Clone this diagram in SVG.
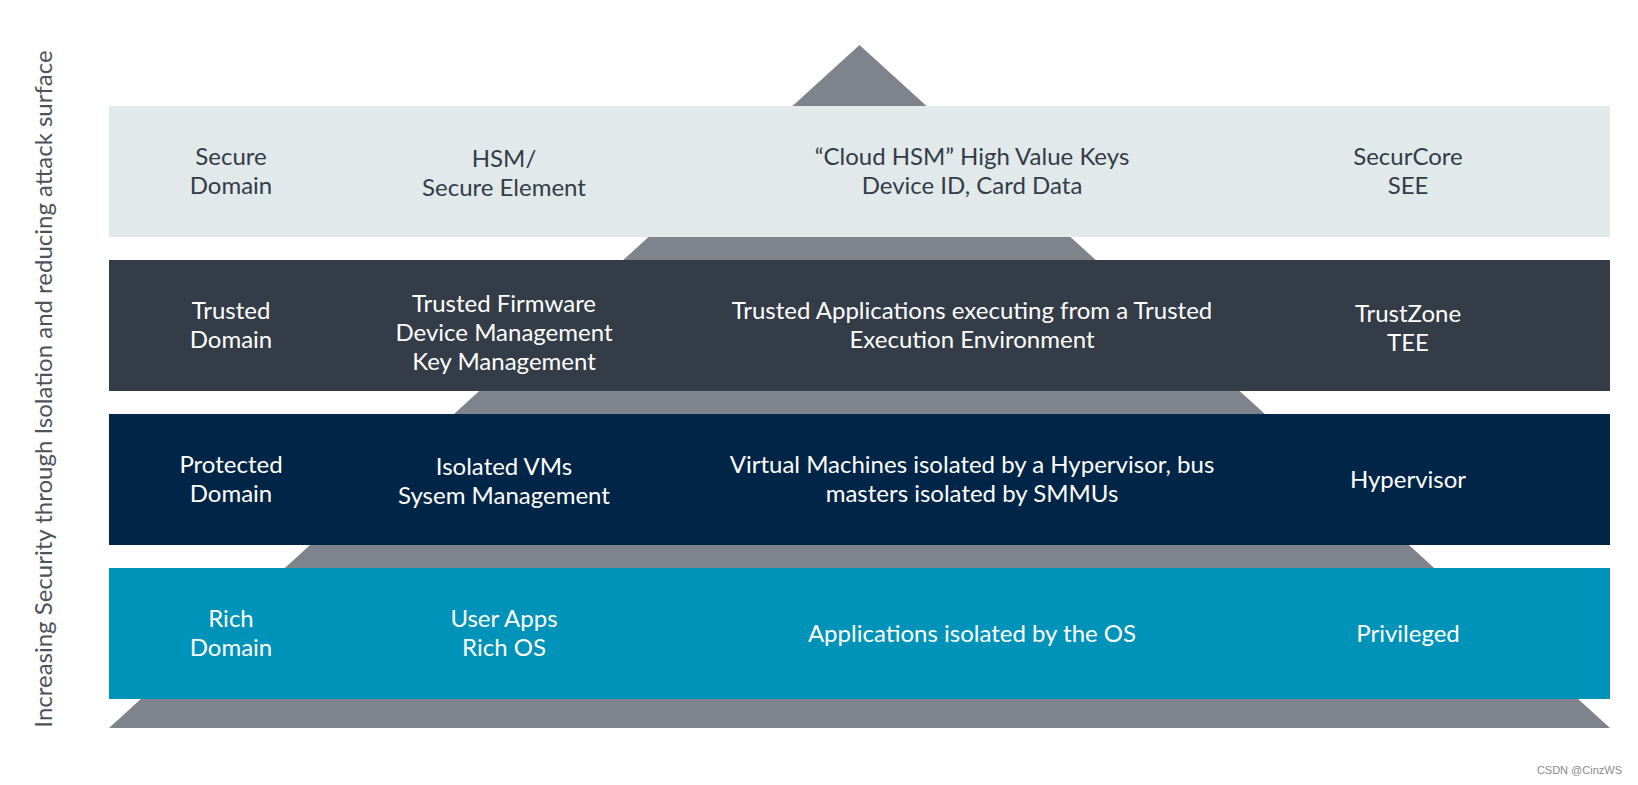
<svg xmlns="http://www.w3.org/2000/svg" width="1638" height="785" viewBox="0 0 1638 785">
<style>
  text { font-family: Lato, "Noto Sans", "Liberation Sans", sans-serif; font-size: 24px; text-anchor: middle; }
  .dark { fill: #333c47; }
  .light { fill: #ffffff; }
  .axis { font-size: 24px; fill: #4d5259; }
  .wm { font-family: "Liberation Sans", sans-serif; font-size: 11px; fill: #8a8a8a; text-anchor: end; }
</style>
<rect width="1638" height="785" fill="#ffffff"/>
<g id="pyramid">
  <polygon points="859.5,45 1610,728 109,728" fill="#7f838c"/>
</g>
<g id="secure-domain">
  <rect x="109" y="106" width="1501" height="131" fill="#e1e9eb"/>
  <text class="dark" x="231" y="165">Secure</text>
  <text class="dark" x="231" y="194">Domain</text>
  <text class="dark" x="504" y="167">HSM/</text>
  <text class="dark" x="504" y="196">Secure Element</text>
  <text class="dark" x="972" y="165">“Cloud HSM” High Value Keys</text>
  <text class="dark" x="972" y="194">Device ID, Card Data</text>
  <text class="dark" x="1408" y="165">SecurCore</text>
  <text class="dark" x="1408" y="194">SEE</text>
</g>
<g id="trusted-domain">
  <rect x="109" y="260" width="1501" height="131" fill="#333c47"/>
  <text class="light" x="231" y="319">Trusted</text>
  <text class="light" x="231" y="348">Domain</text>
  <text class="light" x="504" y="312">Trusted Firmware</text>
  <text class="light" x="504" y="341">Device Management</text>
  <text class="light" x="504" y="370">Key Management</text>
  <text class="light" x="972" y="319">Trusted Applications executing from a Trusted</text>
  <text class="light" x="972" y="348">Execution Environment</text>
  <text class="light" x="1408" y="322">TrustZone</text>
  <text class="light" x="1408" y="351">TEE</text>
</g>
<g id="protected-domain">
  <rect x="109" y="414" width="1501" height="131" fill="#002546"/>
  <text class="light" x="231" y="473">Protected</text>
  <text class="light" x="231" y="502">Domain</text>
  <text class="light" x="504" y="475">Isolated VMs</text>
  <text class="light" x="504" y="504">Sysem Management</text>
  <text class="light" x="972" y="473">Virtual Machines isolated by a Hypervisor, bus</text>
  <text class="light" x="972" y="502">masters isolated by SMMUs</text>
  <text class="light" x="1408" y="488">Hypervisor</text>
</g>
<g id="rich-domain">
  <rect x="109" y="568" width="1501" height="131" fill="#0093b9"/>
  <text class="light" x="231" y="627">Rich</text>
  <text class="light" x="231" y="656">Domain</text>
  <text class="light" x="504" y="627">User Apps</text>
  <text class="light" x="504" y="656">Rich OS</text>
  <text class="light" x="972" y="642">Applications isolated by the OS</text>
  <text class="light" x="1408" y="642">Privileged</text>
</g>
<g id="axis-label">
  <text class="axis" transform="translate(52,389) rotate(-90)">Increasing Security through Isolation and reducing attack surface</text>
</g>
<text class="wm" x="1622" y="774">CSDN @CinzWS</text>
</svg>
